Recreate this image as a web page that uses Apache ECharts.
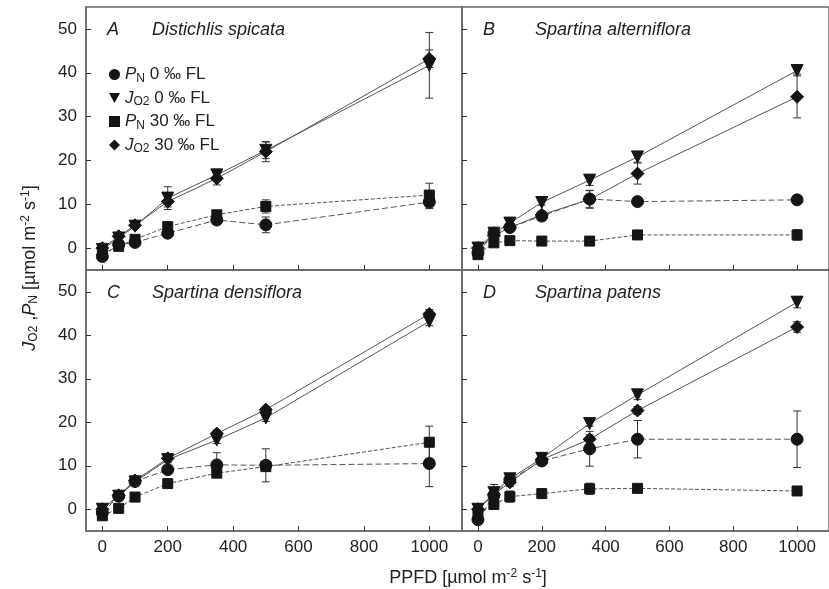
<!DOCTYPE html>
<html>
<head>
<meta charset="utf-8">
<script src="https://cdn.jsdelivr.net/npm/echarts@6/dist/echarts.min.js"></script>
<style>
html,body{margin:0;padding:0;background:#fff}
#chart{width:829px;height:589px}
</style>
</head>
<body>
<div id="chart"></div>
<script>
// x values (PPFD) shared by all panels
var ppfd = [0, 50, 100, 200, 350, 500, 1000];
var xTicks = [0, 200, 400, 600, 800, 1000];
var yTicks = [0, 10, 20, 30, 40, 50];

// A  Distichlis spicata
var aPn0 = [-1.9, 0.8, 1.3, 3.4, 6.4, 5.3, 10.5];
var aPn0Err = [0.6, 0.5, 0.6, 0.8, 0.6, 1.8, 1.5];
var aJo0 = [-0.3, 2.3, 5.0, 11.4, 16.7, 22.3, 41.7];
var aJo0Err = [0.5, 0.6, 0.5, 2.6, 1.3, 1.9, 7.5];
var aPn30 = [-1.2, 0.4, 2.0, 4.9, 7.6, 9.5, 12.1];
var aPn30Err = [0.5, 0.5, 0.5, 0.8, 0.8, 1.5, 2.7];
var aJo30 = [0.0, 2.7, 5.2, 10.6, 15.9, 22.0, 43.2];
var aJo30Err = [0.4, 0.5, 0.5, 1.2, 1.5, 2.3, 2.0];

// B  Spartina alterniflora
var bPn0 = [-1.1, 3.4, 4.7, 7.3, 11.2, 10.6, 11.0];
var bPn0Err = [0.5, 1.0, 0.6, 0.7, 2.0, 0.5, 0.5];
var bJo0 = [0.0, 3.4, 5.7, 10.4, 15.5, 20.8, 40.5];
var bJo0Err = [0.4, 0.8, 0.6, 0.6, 1.2, 1.2, 0.8];
var bPn30 = [-1.5, 1.2, 1.7, 1.6, 1.6, 3.0, 3.0];
var bPn30Err = [0.5, 0.4, 0.4, 0.4, 0.4, 1.0, 1.2];
var bJo30 = [0.0, 2.8, 4.7, 7.6, 11.1, 17.0, 34.5];
var bJo30Err = [0.4, 1.5, 0.8, 0.8, 2.0, 2.4, 4.8];

// C  Spartina densiflora
var cPn0 = [-0.8, 3.0, 6.4, 9.1, 10.2, 10.1, 10.5];
var cPn0Err = [0.5, 0.6, 0.6, 0.8, 2.8, 3.8, 5.3];
var cJo0 = [0.0, 3.0, 6.3, 11.4, 15.9, 21.0, 43.2];
var cJo0Err = [0.4, 0.5, 0.5, 0.7, 0.8, 0.8, 1.0];
var cPn30 = [-1.5, 0.2, 2.8, 5.9, 8.3, 9.8, 15.4];
var cPn30Err = [0.5, 0.5, 0.6, 0.6, 0.8, 1.0, 3.7];
var cJo30 = [0.0, 3.2, 6.6, 11.7, 17.4, 22.9, 44.9];
var cJo30Err = [0.4, 0.5, 0.6, 0.7, 0.8, 0.8, 1.0];

// D  Spartina patens
var dPn0 = [-2.4, 3.2, 6.8, 11.1, 13.9, 16.1, 16.1];
var dPn0Err = [0.6, 2.5, 1.2, 0.9, 4.0, 4.3, 6.5];
var dJo0 = [0.0, 3.8, 7.0, 11.7, 19.7, 26.3, 47.6];
var dJo0Err = [0.4, 0.6, 0.8, 0.8, 0.6, 1.1, 1.3];
var dPn30 = [-1.1, 1.1, 2.9, 3.6, 4.7, 4.8, 4.2];
var dPn30Err = [0.5, 0.5, 1.3, 0.6, 1.3, 0.6, 0.5];
var dJo30 = [0.0, 3.4, 6.2, 11.4, 16.1, 22.7, 41.9];
var dJo30Err = [0.4, 0.6, 1.0, 0.8, 1.0, 0.9, 1.2];

var panels = [
	{letter: 'A', species: 'Distichlis spicata', vals: [aPn0, aJo0, aPn30, aJo30], errs: [aPn0Err, aJo0Err, aPn30Err, aJo30Err]},
	{letter: 'B', species: 'Spartina alterniflora', vals: [bPn0, bJo0, bPn30, bJo30], errs: [bPn0Err, bJo0Err, bPn30Err, bJo30Err]},
	{letter: 'C', species: 'Spartina densiflora', vals: [cPn0, cJo0, cPn30, cJo30], errs: [cPn0Err, cJo0Err, cPn30Err, cJo30Err]},
	{letter: 'D', species: 'Spartina patens', vals: [dPn0, dJo0, dPn30, dJo30], errs: [dPn0Err, dJo0Err, dPn30Err, dJo30Err]}
];

var names = ['PN 0 FL', 'JO2 0 FL', 'PN 30 FL', 'JO2 30 FL'];
var legendText = {
	'PN 0 FL': '{i|P}{sub|N}{t| 0 ‰ FL}',
	'JO2 0 FL': '{i|J}{sub|O2}{t| 0 ‰ FL}',
	'PN 30 FL': '{i|P}{sub|N}{t| 30 ‰ FL}',
	'JO2 30 FL': '{i|J}{sub|O2}{t| 30 ‰ FL}'
};
var downTri = 'path://M0,0 L10,0 L5,9 Z';
var symbols = ['circle', downTri, 'rect', 'diamond'];
var symbolSizes = [12, 12, 10, 13];
var dashes = [[6, 3], 'solid', [4, 2], 'solid'];

var font = "'Liberation Sans', Arial, sans-serif";
var frame = '#6a6a6a';

var grids = [
	{left: 86, top: 7, width: 376, height: 263},
	{left: 462, top: 7, width: 376, height: 263},
	{left: 86, top: 270, width: 376, height: 261},
	{left: 462, top: 270, width: 376, height: 261}
];

var xAxes = [], yAxes = [], series = [], graphics = [];

function renderErr(params, api) {
	var x = api.value(0), y = api.value(1), e = api.value(2);
	var hi = api.coord([x, y + e]);
	var lo = api.coord([x, y - e]);
	var w = 4;
	var st = {stroke: '#333', lineWidth: 1};
	return {
		type: 'group',
		children: [
			{type: 'line', shape: {x1: hi[0], y1: hi[1], x2: lo[0], y2: lo[1]}, style: st},
			{type: 'line', shape: {x1: hi[0] - w, y1: hi[1], x2: hi[0] + w, y2: hi[1]}, style: st},
			{type: 'line', shape: {x1: lo[0] - w, y1: lo[1], x2: lo[0] + w, y2: lo[1]}, style: st}
		]
	};
}

for (var p = 0; p < 4; p++) {
	grids[p].show = true;
	grids[p].borderColor = frame;
	grids[p].borderWidth = 1.5;
	var bottom = p >= 2, left = (p % 2 === 0);

	xAxes.push({
		gridIndex: p, type: 'value', min: -50, max: 1100,
		axisLine: {show: true, onZero: false, lineStyle: {color: frame, width: 1.5}},
		axisTick: {show: true, inside: true, length: 5, customValues: xTicks, lineStyle: {color: '#333'}},
		axisLabel: {show: bottom, customValues: xTicks, fontSize: 17, color: '#222', fontFamily: font, margin: 8,
			formatter: function(v){ return String(v); }},
		splitLine: {show: false}
	});
	yAxes.push({
		gridIndex: p, type: 'value', min: -5, max: 55,
		axisLine: {show: true, onZero: false, lineStyle: {color: frame, width: 1.5}},
		axisTick: {show: true, inside: true, length: 5, customValues: yTicks, lineStyle: {color: '#333'}},
		axisLabel: {show: left, customValues: yTicks, fontSize: 17, color: '#222', fontFamily: font, margin: 9},
		splitLine: {show: false}
	});

	for (var s = 0; s < 4; s++) {
		var vals = panels[p].vals[s], errs = panels[p].errs[s];
		var errData = [], lineData = [];
		for (var i = 0; i < ppfd.length; i++) {
			errData.push([ppfd[i], vals[i], errs[i]]);
			lineData.push([ppfd[i], vals[i]]);
		}
		series.push({
			type: 'custom', xAxisIndex: p, yAxisIndex: p, silent: true, z: 1,
			renderItem: renderErr, encode: {x: 0, y: 1}, data: errData
		});
		series.push({
			name: names[s], type: 'line', xAxisIndex: p, yAxisIndex: p, z: 2,
			data: lineData,
			symbol: symbols[s], symbolSize: symbolSizes[s],
			itemStyle: {color: '#151515', borderColor: '#151515'},
			lineStyle: {color: '#555', width: 1, type: dashes[s]},
			animation: false
		});
	}

	var gx = grids[p].left, gy = grids[p].top;
	graphics.push({
		type: 'text', left: gx + 21, top: gy + 14,
		style: {text: panels[p].letter, fontSize: 18, fontStyle: 'italic', fontFamily: font, fill: '#222'}
	});
	graphics.push({
		type: 'text', left: gx + 66 + (left ? 0 : 7), top: gy + 14,
		style: {text: panels[p].species, fontSize: 18, fontStyle: 'italic', fontFamily: font, fill: '#222'}
	});
}

var subRich = {
	t: {fontSize: 17, fontFamily: font, color: '#222'},
	i: {fontSize: 17, fontFamily: font, fontStyle: 'italic', color: '#222'},
	sub: {fontSize: 12, fontFamily: font, color: '#222', padding: [8, 0, 0, 0]}
};

graphics.push({
	type: 'text', x: 30, y: 268, rotation: Math.PI / 2,
	style: {
		text: '{i|J}{sub|O2}{t| ,}{i|P}{sub|N}{t| [µmol m}{sup|-2}{t| s}{sup|-1}{t|]}',
		align: 'center', verticalAlign: 'middle',
		rich: {
			t: {fontSize: 18, fontFamily: font, fill: '#222'},
			i: {fontSize: 18, fontFamily: font, fontStyle: 'italic', fill: '#222'},
			sub: {fontSize: 12, fontFamily: font, fill: '#222', padding: [8, 0, 0, 0]},
			sup: {fontSize: 12, fontFamily: font, fill: '#222', padding: [0, 0, 9, 0]}
		}
	}
});
graphics.push({
	type: 'text', x: 468, y: 578,
	style: {
		text: '{t|PPFD [µmol m}{sup|-2}{t| s}{sup|-1}{t|]}',
		align: 'center', verticalAlign: 'middle',
		rich: {
			t: {fontSize: 18, fontFamily: font, fill: '#222'},
			sup: {fontSize: 12, fontFamily: font, fill: '#222', padding: [0, 0, 9, 0]}
		}
	}
});

var legendData = [];
for (var k = 0; k < 4; k++) {
	legendData.push({name: names[k], icon: symbols[k]});
}

var chart = echarts.init(document.getElementById('chart'));
chart.setOption({
	animation: false,
	backgroundColor: '#fff',
	grid: grids,
	xAxis: xAxes,
	yAxis: yAxes,
	legend: {
		data: legendData,
		orient: 'vertical', left: 104, top: 61,
		itemWidth: 11, itemHeight: 11, itemGap: 5,
		selectedMode: false,
		formatter: function(name){ return legendText[name]; },
		textStyle: {rich: subRich, fontSize: 17, color: '#222'}
	},
	graphic: graphics,
	series: series
});
</script>
</body>
</html>
